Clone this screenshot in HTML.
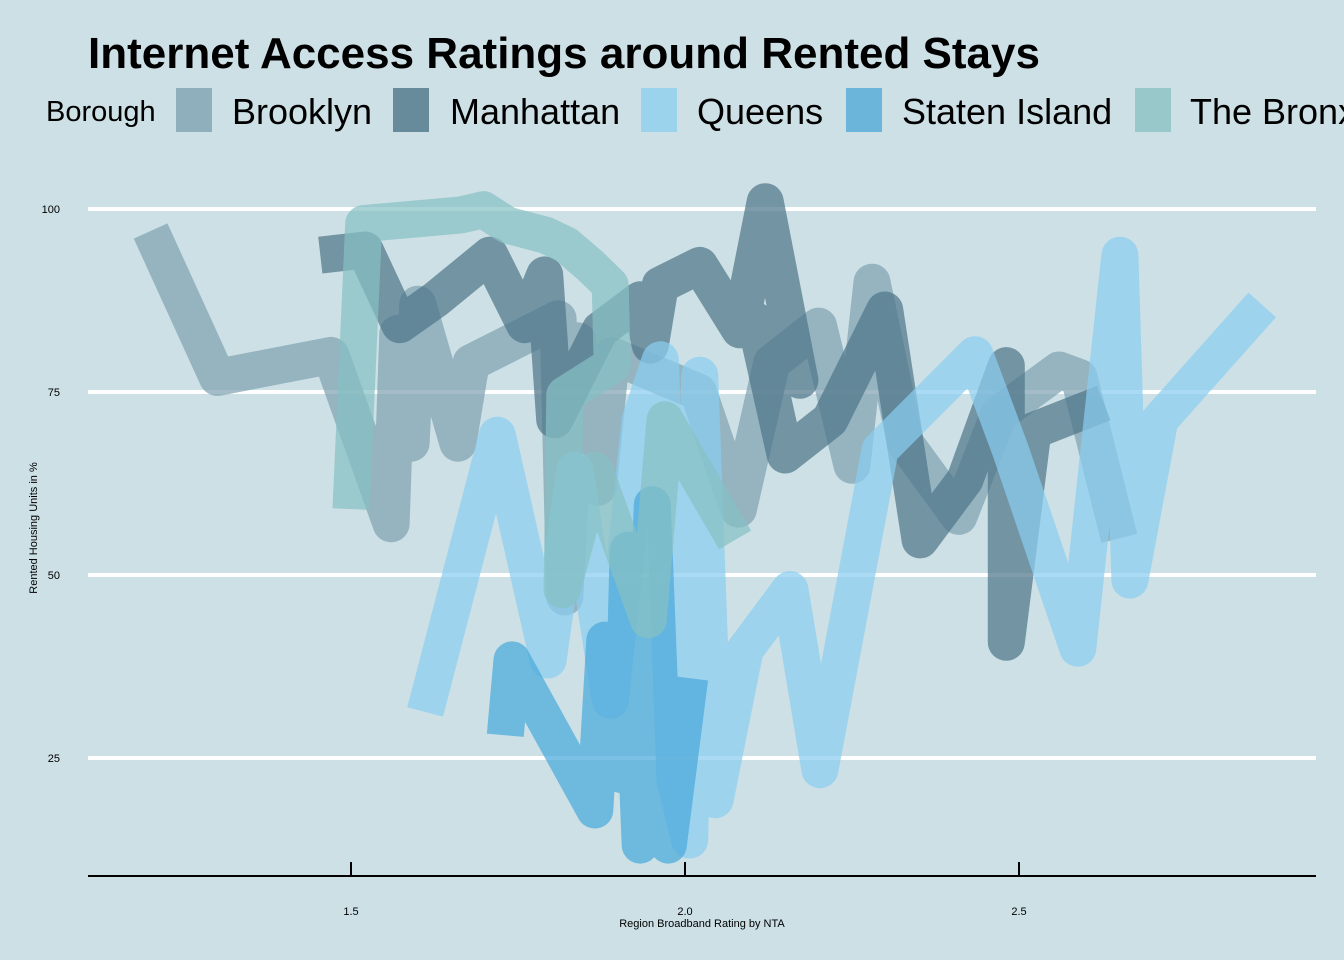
<!DOCTYPE html>
<html><head><meta charset="utf-8"><style>
body{margin:0;background:#cde0e6;}
svg{display:block;font-family:"Liberation Sans",Arial,sans-serif;}
</style></head><body>
<svg id="chart" width="1344" height="960" viewBox="0 0 1344 960">
<rect width="1344" height="960" fill="#cde0e6"/>
<text x="88" y="68" font-size="44" font-weight="bold" fill="#000">Internet Access Ratings around Rented Stays</text>
<g>
<text x="46" y="121" font-size="29">Borough</text>
<rect x="176" y="88" width="36" height="44" fill="#8fafbc"/>
<text x="232" y="124" font-size="36">Brooklyn</text>
<rect x="393" y="88" width="36" height="44" fill="#678b9a"/>
<text x="450" y="124" font-size="36">Manhattan</text>
<rect x="641" y="88" width="36" height="44" fill="#9bd2ec"/>
<text x="697" y="124" font-size="36">Queens</text>
<rect x="846" y="88" width="36" height="44" fill="#6cb5da"/>
<text x="902" y="124" font-size="36">Staten Island</text>
<rect x="1135" y="88" width="36" height="44" fill="#99c8cb"/>
<text x="1190" y="124" font-size="36">The Bronx</text>
</g>
<g id="grid"></g>
<g id="series"></g>
<g id="axes"></g>
<text x="702" y="927" font-size="11" text-anchor="middle">Region Broadband Rating by NTA</text>
<text transform="translate(37,528) rotate(-90)" font-size="11" text-anchor="middle">Rented Housing Units in %</text>
</svg>
<script>
const xTicks = [1.5, 2.0, 2.5];
const xTickLabels = ["1.5", "2.0", "2.5"];
const yTicks = [25, 50, 75, 100];
const seriesNames = ["Brooklyn", "Manhattan", "Queens", "Staten Island", "The Bronx"];
const brooklynX = [1.20,1.30,1.47,1.56,1.57,1.59,1.60,1.66,1.68,1.81,1.82,1.84,1.87,1.89,2.02,2.08,2.13,2.20,2.25,2.28,2.33,2.41,2.47,2.56,2.59,2.65];
const brooklynY = [97,77,80,57,83,68,87,68,79,85,47,82,62,80,75,59,79,84,65,90,68,58,72,78,77,55];
const manhattanX = [1.454,1.521,1.573,1.626,1.708,1.760,1.790,1.805,1.873,1.933,1.948,1.963,2.022,2.082,2.120,2.172,2.105,2.150,2.217,2.299,2.352,2.419,2.481,2.481,2.521,2.627];
const manhattanY = [93.7,94.4,84.2,87.6,93.7,84.2,91.0,71.2,83.5,87.6,81.4,89.6,92.3,83.5,101,76.6,84.8,66.4,71.2,86.2,54.8,63.0,78.6,40.8,69.7,73.5];
const queensX = [1.611,1.719,1.795,1.835,1.888,1.933,1.963,1.985,2.007,2.022,2.045,2.090,2.157,2.202,2.292,2.434,2.487,2.588,2.651,2.666,2.711,2.864];
const queensY = [31.3,69.1,38.4,64.3,32.9,71.2,79.4,22.0,13.8,77.3,19.3,39.8,48.0,23.4,67.1,80.1,67.1,40.0,93.7,49.3,71.2,86.9];
const statenX = [1.731,1.741,1.865,1.880,1.906,1.915,1.933,1.951,1.966,1.975,2.007];
const statenY = [28.1,38.4,17.9,41.1,22.7,53.4,13.1,59.6,24.7,13.1,35.9];
const bronxX = [1.5,1.519,1.665,1.698,1.734,1.792,1.822,1.858,1.888,1.891,1.820,1.816,1.865,1.945,1.970,2.075];
const bronxY = [59.0,98.0,99.2,99.9,97.8,96.4,95.1,92.3,89.6,78.7,74.6,48.0,64.3,43.9,71.2,54.8];

const NS = "http://www.w3.org/2000/svg";
function sx(v){ return 351 + (v - 1.5) * 668; }
function sy(v){ return 209 + (100 - v) * 7.32; }
const grid = document.getElementById('grid');
const axes = document.getElementById('axes');
const series = document.getElementById('series');
yTicks.forEach(t => {
  const l = document.createElementNS(NS, 'line');
  l.setAttribute('x1', 88); l.setAttribute('x2', 1316);
  l.setAttribute('y1', sy(t)); l.setAttribute('y2', sy(t));
  l.setAttribute('stroke', '#fff'); l.setAttribute('stroke-width', 4);
  
  
  grid.appendChild(l);
  const tx = document.createElementNS(NS, 'text');
  tx.setAttribute('x', 60); tx.setAttribute('y', sy(t) + 4);
  tx.setAttribute('font-size', 11); tx.setAttribute('text-anchor', 'end');
  tx.textContent = t;
  
  
  axes.appendChild(tx);
});
const ax = document.createElementNS(NS, 'line');
ax.setAttribute('x1', 88); ax.setAttribute('x2', 1316);
ax.setAttribute('y1', 876); ax.setAttribute('y2', 876);
ax.setAttribute('stroke', '#000'); ax.setAttribute('stroke-width', 2);


axes.appendChild(ax);
xTicks.forEach((t, i) => {
  const l = document.createElementNS(NS, 'line');
  l.setAttribute('x1', sx(t)); l.setAttribute('x2', sx(t));
  l.setAttribute('y1', 862); l.setAttribute('y2', 876);
  l.setAttribute('stroke', '#000'); l.setAttribute('stroke-width', 2);
  
  
  axes.appendChild(l);
  const tx = document.createElementNS(NS, 'text');
  tx.setAttribute('x', sx(t)); tx.setAttribute('y', 915);
  tx.setAttribute('font-size', 11); tx.setAttribute('text-anchor', 'middle');
  tx.textContent = xTickLabels[i];
  
  
  axes.appendChild(tx);
});
const allX = [brooklynX, manhattanX, queensX, statenX, bronxX];
const allY = [brooklynY, manhattanY, queensY, statenY, bronxY];
const colors = ["#7fa2b2", "#4f7689", "#8acdf0", "#4aa9db", "#86c0c3"];
allX.forEach((xs, k) => {
  const ys = allY[k];
  const p = document.createElementNS(NS, 'path');
  const d = xs.map((x, i) => (i ? 'L' : 'M') + sx(x).toFixed(1) + ',' + sy(ys[i]).toFixed(1)).join(' ');
  p.setAttribute('d', d);
  p.setAttribute('fill', 'none');
  p.setAttribute('stroke', colors[k]);
  p.setAttribute('stroke-opacity', 0.72);
  p.setAttribute('stroke-width', 37);
  p.setAttribute('stroke-linejoin', 'round');
  p.setAttribute('stroke-linecap', 'butt');
  
  
  series.appendChild(p);
});
</script>
</body></html>
